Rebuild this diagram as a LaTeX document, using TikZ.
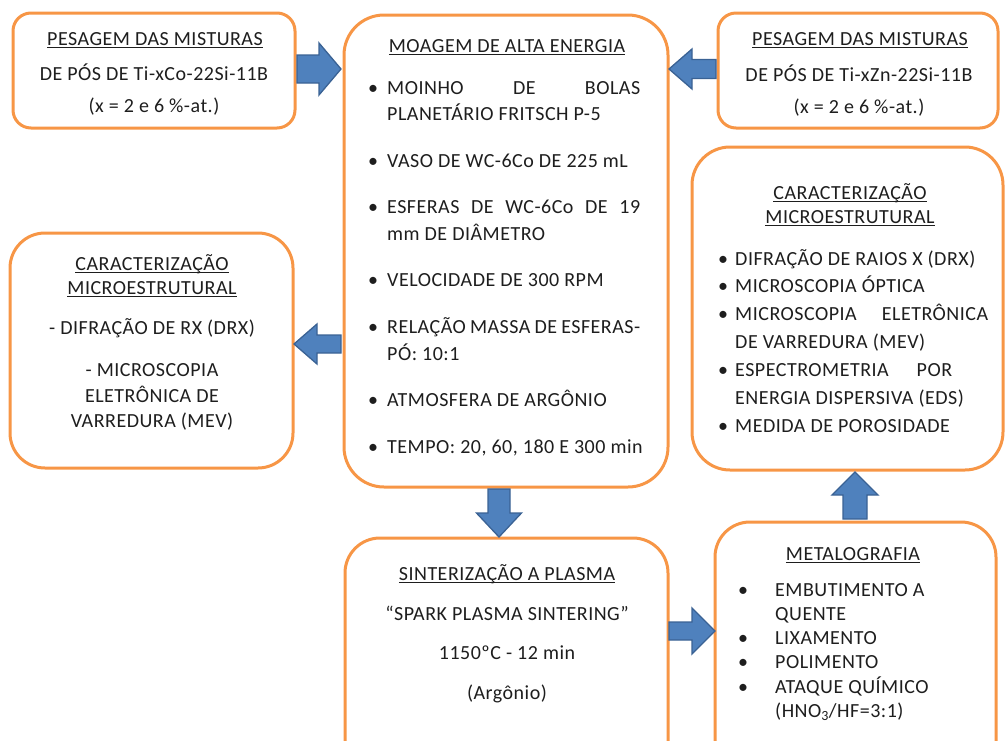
\documentclass[tikz,border=0pt]{standalone}
\usepackage{fontspec}
\setmainfont{Carlito}[LetterSpace=2.5]
\usetikzlibrary{calc}
\definecolor{boxorange}{HTML}{F79646}
\definecolor{arrowblue}{HTML}{4F81BD}
\definecolor{arrowedge}{HTML}{3A6294}
\definecolor{txtcol}{HTML}{1E1E1E}
\newcommand\fsz{\fontsize{20}{25}\selectfont}
\newsavebox\ulbox
\newcommand\ulx[1]{\sbox\ulbox{#1}\rlap{\rule[-2.8pt]{\wd\ulbox}{1.1pt}}\usebox\ulbox}
% horizontal block arrow: tail x, head-base x, tip x, y centre, shaft half, head half
\newcommand\blockH[6]{\draw[barrow] (#1,#4-#5) -- (#2,#4-#5) -- (#2,#4-#6) -- (#3,#4) -- (#2,#4+#6) -- (#2,#4+#5) -- (#1,#4+#5) -- cycle;}
% vertical block arrow: tail y, head-base y, tip y, x centre, shaft half, head half
\newcommand\blockV[6]{\draw[barrow] (#4-#5,#1) -- (#4-#5,#2) -- (#4-#6,#2) -- (#4,#3) -- (#4+#6,#2) -- (#4+#5,#2) -- (#4+#5,#1) -- cycle;}
\begin{document}
\begin{tikzpicture}[x=1pt,y=-1pt,
  box/.style={draw=boxorange, line width=3pt, fill=white, inner sep=0pt},
  barrow/.style={fill=arrowblue, draw=arrowedge, line width=1.3pt, line join=miter},
  bul/.style={inner sep=0pt, font=\fsz, text=txtcol, anchor=base},
  ln/.style={inner sep=0pt, font=\fsz, text=txtcol, anchor=base west},
  ctr/.style={inner sep=0pt, font=\fsz, text=txtcol, anchor=base}]
\useasboundingbox (0,0) rectangle (1005,740);
\clip (0,0) rectangle (1005,740);

% boxes
\node[box, rounded corners=18pt, minimum width=282pt, minimum height=115pt] (pesCo) at (154,70.5) {};
\node[box, rounded corners=40pt, minimum width=324pt, minimum height=472pt] (moag) at (506,251) {};
\node[box, rounded corners=18pt, minimum width=280pt, minimum height=115pt] (pesZn) at (858,70.5) {};
\node[box, rounded corners=35pt, minimum width=283pt, minimum height=235pt] (carL) at (151.5,350.5) {};
\node[box, rounded corners=38pt, minimum width=311pt, minimum height=323pt] (carR) at (847.5,308.5) {};
\node[box, rounded corners=35pt, minimum width=323pt, minimum height=242pt] (sint) at (506.5,659) {};
\node[box, rounded corners=35pt, minimum width=281pt, minimum height=258pt] (meta) at (855.5,651) {};

% arrows
\blockH{297}{319}{341}{69}{14}{26}
\blockH{716}{692}{669}{69}{9.5}{20}
\blockH{341}{317}{294}{344}{9}{20}
\blockV{489}{513}{537}{499}{11}{22.5}
\blockH{669}{692}{715}{631}{9}{23}
\blockV{519}{495}{472}{855}{12}{23}

% box 1
\node[ctr] (p1a) at (155,45) {\ulx{PESAGEM DAS MISTURAS}};
\node[ctr] (p1b) at (154,80) {DE PÓS DE Ti-xCo-22Si-11B};
\node[ctr] (p1c) at (154,112) {(x = 2 e 6 \%-at.)};

% box 3
\node[ctr] (p3a) at (860,45) {\ulx{PESAGEM DAS MISTURAS}};
\node[ctr] (p3b) at (859,81) {DE PÓS DE Ti-xZn-22Si-11B};
\node[ctr] (p3c) at (859,113) {(x = 2 e 6 \%-at.)};

% box 2
\node[ctr] (m0) at (507,52) {\ulx{MOAGEM DE ALTA ENERGIA}};
\node[bul] (mb1) at (373,94) {\textbullet};
\node[ln] (m1a) at (387,94) {\makebox[253pt][s]{MOINHO DE BOLAS}};
\node[ln] (m1b) at (387,120) {PLANETÁRIO FRITSCH P-5};
\node[bul] (mb2) at (373,167) {\textbullet};
\node[ln] (m2) at (387,167) {VASO DE WC-6Co DE 225 mL};
\node[bul] (mb3) at (373,213) {\textbullet};
\node[ln] (m3a) at (387,213) {\makebox[253pt][s]{ESFERAS DE WC-6Co DE 19}};
\node[ln] (m3b) at (387,240) {mm DE DIÂMETRO};
\node[bul] (mb4) at (373,286) {\textbullet};
\node[ln] (m4) at (387,286) {VELOCIDADE DE 300 RPM};
\node[bul] (mb5) at (373,333) {\textbullet};
\node[ln] (m5a) at (387,333) {\makebox[253pt][s]{RELAÇÃO MASSA DE ESFERAS-}};
\node[ln] (m5b) at (387,360) {PÓ: 10:1};
\node[bul] (mb6) at (373,406) {\textbullet};
\node[ln] (m6) at (387,406) {ATMOSFERA DE ARGÔNIO};
\node[bul] (mb7) at (373,453) {\textbullet};
\node[ln] (m7) at (387,453) {TEMPO: 20, 60, 180 E 300 min};

% box 4
\node[ctr] (cl1) at (152,270) {\ulx{CARACTERIZAÇÃO}};
\node[ctr] (cl2) at (152,294) {\ulx{MICROESTRUTURAL}};
\node[ctr] (cl3) at (152,334) {- DIFRAÇÃO DE RX (DRX)};
\node[ctr] (cl4) at (152,376) {- MICROSCOPIA};
\node[ctr] (cl5) at (152,402) {ELETRÔNICA DE};
\node[ctr] (cl6) at (152,427) {VARREDURA (MEV)};

% box 5
\node[ctr] (cr1) at (850,199) {\ulx{CARACTERIZAÇÃO}};
\node[ctr] (cr2) at (850,223) {\ulx{MICROESTRUTURAL}};
\node[bul] (crb1) at (723,265) {\textbullet};
\node[ln] (cr3) at (735,265) {DIFRAÇÃO DE RAIOS X (DRX)};
\node[bul] (crb2) at (723,292.5) {\textbullet};
\node[ln] (cr4) at (735,292.5) {MICROSCOPIA ÓPTICA};
\node[bul] (crb3) at (723,320.5) {\textbullet};
\node[ln] (cr5a) at (735,320.5) {\makebox[253pt][s]{MICROSCOPIA ELETRÔNICA}};
\node[ln] (cr5b) at (735,348.5) {DE VARREDURA (MEV)};
\node[bul] (crb4) at (723,376.5) {\textbullet};
\node[ln] (cr6a) at (735,376.5) {\makebox[217pt][s]{ESPECTROMETRIA POR}};
\node[ln] (cr6b) at (735,404.5) {ENERGIA DISPERSIVA (EDS)};
\node[bul] (crb5) at (723,432.5) {\textbullet};
\node[ln] (cr7) at (735,432.5) {MEDIDA DE POROSIDADE};

% box 6
\node[ctr] (s1) at (507,580) {\ulx{SINTERIZAÇÃO A PLASMA}};
\node[ctr] (s2) at (507,620) {“SPARK PLASMA SINTERING”};
\node[ctr] (s3) at (507,659) {1150ºC - 12 min};
\node[ctr] (s4) at (507,699) {(Argônio)};

% box 7
\node[ctr] (mt0) at (853,560) {\ulx{METALOGRAFIA}};
\node[bul] (mtb1) at (743,596) {\textbullet};
\node[ln] (mt1a) at (775,596) {EMBUTIMENTO A};
\node[ln] (mt1b) at (775,620) {QUENTE};
\node[bul] (mtb2) at (743,644) {\textbullet};
\node[ln] (mt2) at (775,644) {LIXAMENTO};
\node[bul] (mtb3) at (743,668) {\textbullet};
\node[ln] (mt3) at (775,668) {POLIMENTO};
\node[bul] (mtb4) at (743,693) {\textbullet};
\node[ln] (mt4a) at (775,693) {ATAQUE QUÍMICO};
\node[ln] (mt4b) at (775,717) {(HNO\textsubscript{3}/HF=3:1)};
\end{tikzpicture}
\end{document}
